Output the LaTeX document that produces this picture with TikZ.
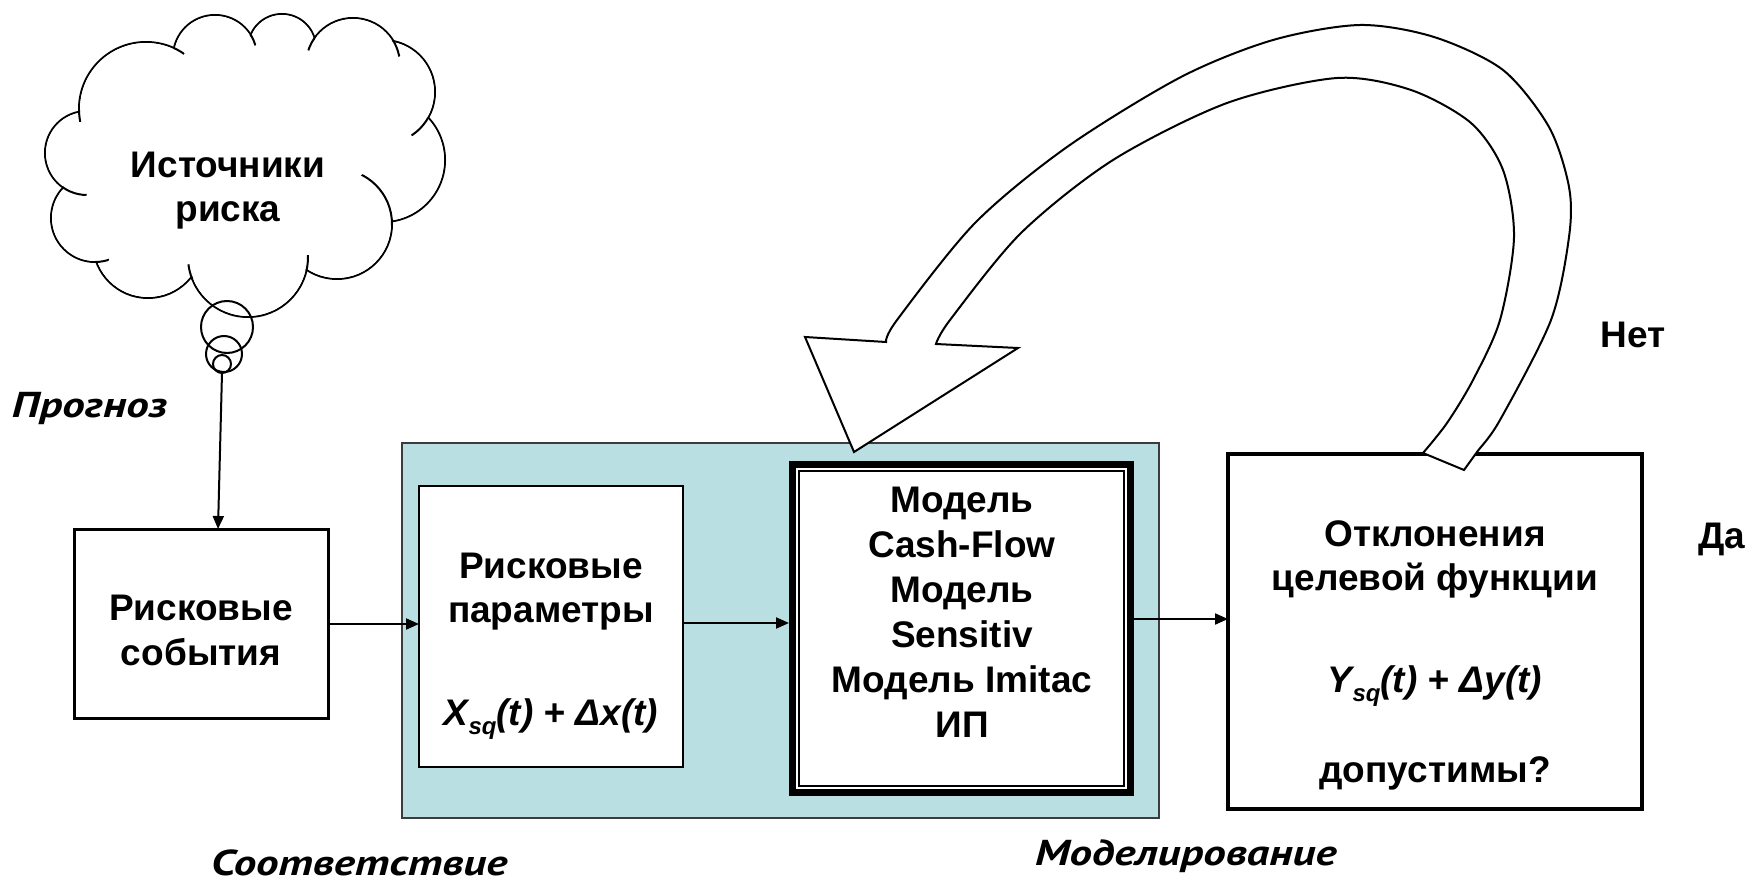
\documentclass[tikz,border=0pt]{standalone}
\usepackage{fontspec}
\setmainfont{Liberation Sans}
\newfontfamily\italfont{PT Sans}
\usetikzlibrary{arrows.meta}
\definecolor{tealfill}{RGB}{186,223,227}
\definecolor{tealedge}{RGB}{60,60,60}
\newcommand\subsq{\raisebox{-9pt}{\fontsize{24}{24}\selectfont sq}}
\newcommand\widelbl[1]{\scalebox{1.25}[1]{#1}}
\begin{document}
\begin{tikzpicture}[x=1pt,y=-1pt,
  every node/.style={inner sep=0pt, outer sep=0pt},
  txt/.style={font=\bfseries\fontsize{37}{45}\selectfont, anchor=base},
  ilbl/.style={font=\italfont\bfseries\itshape\fontsize{36}{45}\selectfont, anchor=base west},
  frame/.style={draw, fill=white},
  arr/.style={line width=2pt, -{Triangle[length=13pt,width=11pt]}},
  cl/.style={line width=2pt},
  bub/.style={draw, circle, line width=2pt},
]
\useasboundingbox (0,0) rectangle (1763,882);

% shaded modelling area
\node[draw=tealedge, fill=tealfill, line width=1.5pt, minimum width=757pt, minimum height=375pt] (area) at (780.5,630.5) {};

% boxes
\node[frame, line width=3pt, minimum width=254pt, minimum height=189pt] (ev) at (201,623.5) {};
\node[frame, line width=2.5pt, minimum width=264pt, minimum height=281pt] (par) at (551,626.5) {};
\node[frame, line width=7pt, minimum width=338pt, minimum height=328pt] (model) at (961.5,628.5) {};
\draw[line width=2pt] ([shift={(6.5,6.5)}]model.north west) rectangle ([shift={(-6.5,-6.5)}]model.south east);
\node[frame, line width=3.5pt, minimum width=414pt, minimum height=355pt] (dev) at (1435,631.5) {};

% box texts
\node[txt] (ev1) at (201,620) {Рисковые};
\node[txt] (ev2) at (201,665) {события};
\node[txt] (par1) at (551,578) {Рисковые};
\node[txt] (par2) at (551,622) {параметры};
\node[txt] (par3) at (551,725) {\itshape X\subsq(t) + Δx(t)};
\node[txt] (m1) at (962,512) {Модель};
\node[txt] (m2) at (962,557) {Cash-Flow};
\node[txt] (m3) at (962,602) {Модель};
\node[txt] (m4) at (962,647) {Sensitiv};
\node[txt] (m5) at (962,692) {Модель Imitac};
\node[txt] (m6) at (962,737) {ИП};
\node[txt] (d1) at (1435,546) {Отклонения};
\node[txt] (d2) at (1435,590) {целевой функции};
\node[txt] (d3) at (1435,692) {\itshape Y\subsq(t) + Δy(t)};
\node[txt] (d4) at (1435,782) {допустимы?};

% connectors
\coordinate (mw) at ([xshift=-3.5pt]model.west);
\coordinate (me) at ([xshift=3.5pt]model.east);
\draw[arr] (ev.east |- 0,624) -- (par.west |- 0,624);
\draw[arr] (par.east |- 0,623) -- (mw |- 0,623);
\draw[arr] (me |- 0,619) -- (dev.west |- 0,619);

% cloud
\foreach \cx/\cy/\r in {146/109/67, 215/57/42, 282/48/34, 353/65/47, 383/92/52, 383/160/62, 337/224/55, 248/257/60, 148/243/55, 95/218/44, 87/153/42}
  {\draw[cl] (\cx,\cy) circle[radius=\r pt];}
\foreach \cx/\cy/\r in {146/109/67, 215/57/42, 282/48/34, 353/65/47, 383/92/52, 383/160/62, 337/224/55, 248/257/60, 148/243/55, 95/218/44, 87/153/42}
  {\fill[white] (\cx,\cy) circle[radius=\r pt - 1pt];}
\fill[white] (146,109) -- (215,57) -- (282,48) -- (353,65) -- (383,92) -- (383,160) -- (337,224) -- (248,257) -- (148,243) -- (95,218) -- (87,153) -- cycle;
\foreach \cx/\cy/\r/\kx/\ky/\kr in {146/109/67/80/116/6, 87/153/42/74/193/13, 95/218/44/102/259/7, 248/257/60/190/272/8, 248/257/60/308/263/8, 337/224/55/383/196/30, 383/92/52/420/127/12, 353/65/47/397/48/9, 353/65/47/311/44/7, 215/57/42/253/40/6, 146/109/67/179/51/6}
  {\begin{scope}\clip (\kx,\ky) circle[radius=\kr pt]; \draw[cl] (\cx,\cy) circle[radius=\r pt];\end{scope}}
\node[txt] (c1) at (228,178) {Источники};
\node[txt] (c2) at (228,222) {риска};
\node[bub, minimum size=52pt] (b1) at (227,327) {};
\node[bub, minimum size=36pt] (b2) at (224,354) {};
\node[bub, minimum size=18pt] (b3) at (222,364) {};
\coordinate (evtop) at ([xshift=17pt]ev.north);
\draw[arr] (b3.south) -- (evtop);

% big curved return arrow
\draw[line width=2pt, fill=white, line join=miter]
  plot[smooth] coordinates {(1423,453) (1447,423) (1473,380) (1500,320) (1514,237) (1503,170) (1471,123) (1411,90) (1337,78) (1227,103) (1113,160) (1021,233) (950,320) (936,344)}
  -- (1018,348) -- (854,452) -- (805,337) -- (886,342)
  -- plot[smooth] coordinates {(886,342) (897,320) (975,223) (1067,147) (1181,77) (1273,40) (1360,25) (1434,37) (1503,70) (1549,127) (1569,187) (1569,237) (1551,320) (1500,420) (1477,452) (1464,470)}
  -- cycle;

% labels
\node[txt] (no) at (1633,348) {Нет};
\node[txt] (yes) at (1722,548) {Да};
\node[ilbl] (l1) at (12,417) {\widelbl{Прогноз}};
\node[ilbl] (l2) at (211,875) {\widelbl{Соответствие}};
\node[ilbl] (l3) at (1035,865) {\widelbl{Моделирование}};
\end{tikzpicture}
\end{document}
